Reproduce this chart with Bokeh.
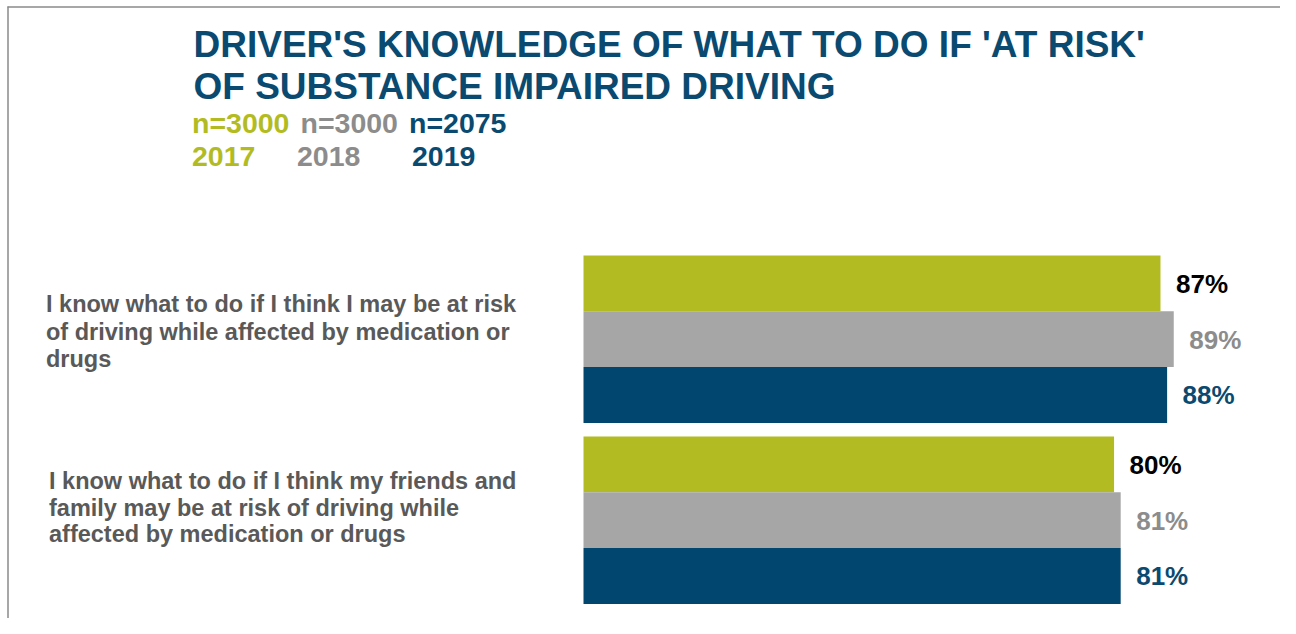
from bokeh.plotting import figure
from bokeh.models import Range1d, Label, ColumnDataSource
from bokeh.core.properties import value
from bokeh.embed import file_html
from bokeh.resources import INLINE

# ---------------- data ----------------
title_lines = ["DRIVER'S KNOWLEDGE OF WHAT TO DO IF 'AT RISK'",
               "OF SUBSTANCE IMPAIRED DRIVING"]
categories = [
    "I know what to do if I think I may be at risk\nof driving while affected by medication or\ndrugs",
    "I know what to do if I think my friends and\nfamily may be at risk of driving while\naffected by medication or drugs",
]
years = ["2017", "2018", "2019"]
sample_sizes = ["n=3000", "n=3000", "n=2075"]
values_2017 = [87, 80]
values_2018 = [89, 81]
values_2019 = [88, 81]
series = [values_2017, values_2018, values_2019]

# ---------------- style ----------------
FONT_NAME = "Liberation Sans"
FONT = value(FONT_NAME)
bar_colors = ["#B2BC22", "#A6A6A6", "#00466E"]
legend_colors = ["#B2BC22", "#8C8C8C", "#0B4A70"]
value_label_colors = ["#000000", "#8C8C8C", "#0B4A70"]
title_color = "#0B4A70"
cat_color = "#595959"

W, H = 1280, 618
px_per_pct = 6.632
zero_px = 583
first_top = 255
bar_h = 55.8
group_gap = 13.6
BL = 0.37  # baseline correction factor (fraction of font size)


def px_to_x(px):
    return (px - zero_px) / px_per_pct


p = figure(width=W, height=H, output_backend="svg", toolbar_location=None,
           x_axis_type=None, y_axis_type=None, title=None,
           x_range=Range1d(px_to_x(0), px_to_x(W)),
           y_range=Range1d(H, 0), min_border=0)
p.outline_line_color = None
p.grid.visible = False
p.background_fill_color = "white"
p.border_fill_color = "white"

# frame lines (top and left)
p.segment(x0=[px_to_x(7), px_to_x(7.5)], y0=[6.5, 6], x1=[px_to_x(W), px_to_x(7.5)], y1=[6.5, H],
          line_color="#8A8A8A", line_width=1.5)

group_pitch = 3 * bar_h + group_gap
val_size = 26
for j, vals in enumerate(series):
    centers = [first_top + g * group_pitch + (j + 0.5) * bar_h for g in range(len(categories))]
    src = ColumnDataSource(dict(y=centers, right=vals,
                                ty=[c + 10 - BL * val_size for c in centers],
                                label=[f"{v}%" for v in vals]))
    p.hbar(y="y", left=0, right="right", height=bar_h, source=src,
           fill_color=bar_colors[j], line_color=None)
    p.text(x="right", y="ty", text="label", source=src, x_offset=15.5,
           text_font=FONT, text_font_style="bold", text_font_size=f"{val_size}px",
           text_color=value_label_colors[j], text_baseline="alphabetic", text_align="left")


def add_text(x, baseline, text, size, color):
    p.add_layout(Label(x=x, y=baseline - BL * size, x_units="screen", y_units="data", text=text,
                       text_font=FONT_NAME, text_font_style="bold", text_font_size=f"{size}px",
                       text_color=color, text_baseline="alphabetic"))


# title
for t, yb in zip(title_lines, [58, 99.5]):
    add_text(193, yb, t, 37, title_color)

# legend-like header
leg_x = [191.5, 300, 408.5]
year_x = [191.5, 296.5, 411.5]
for i in range(3):
    add_text(leg_x[i], 133.5, sample_sizes[i], 28.5, legend_colors[i])
    add_text(year_x[i], 166.5, years[i], 28.5, legend_colors[i])

# category labels
cat_x = [45.5, 48.5]
cat_first_baseline = [312.5, 489.5]
line_step = [27.3, 26.4]
for g, cat in enumerate(categories):
    for k, line in enumerate(cat.split("\n")):
        add_text(cat_x[g], cat_first_baseline[g] + k * line_step[g], line, 23.5, cat_color)

open("out.html", "w").write(file_html(p, INLINE))
